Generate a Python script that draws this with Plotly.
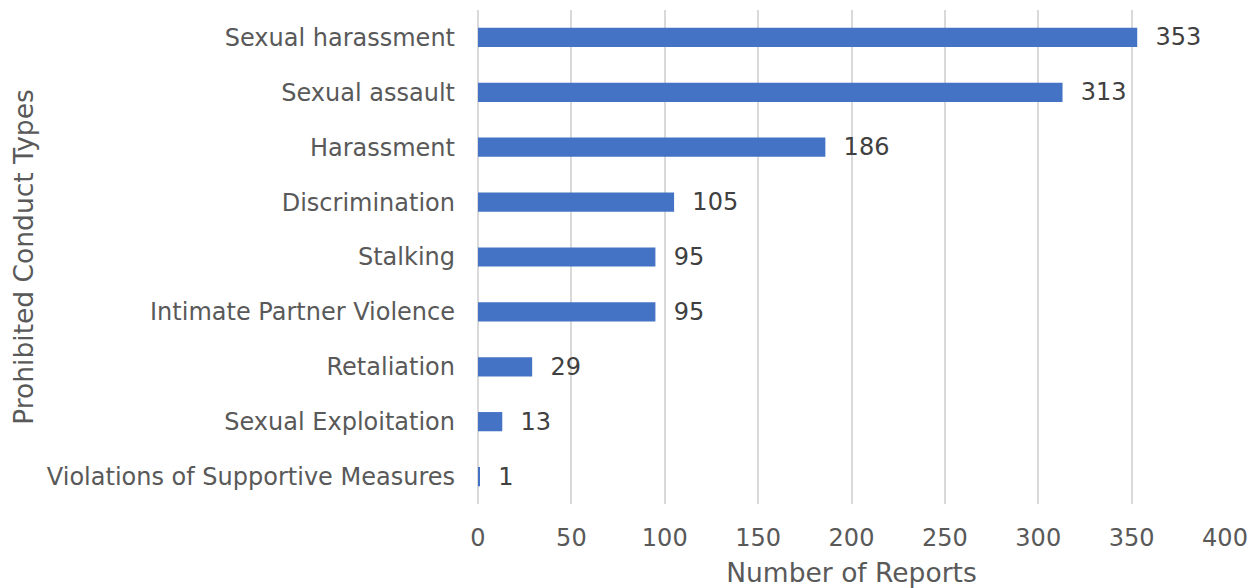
import plotly.graph_objects as go

categories = [
    "Sexual harassment",
    "Sexual assault",
    "Harassment",
    "Discrimination",
    "Stalking",
    "Intimate Partner Violence",
    "Retaliation",
    "Sexual Exploitation",
    "Violations of Supportive Measures",
]
reports = [353, 313, 186, 105, 95, 95, 29, 13, 1]
x_ticks = [0, 50, 100, 150, 200, 250, 300, 350, 400]

FONT = "DejaVu Sans"
FS = 24
TFS = 26.5

fig = go.Figure(
    go.Bar(
        x=reports,
        y=categories,
        orientation="h",
        width=0.35,
        marker=dict(color="#4472C4", line=dict(width=0)),
        text=reports,
        texttemplate="  %{text}",
        textposition="outside",
        constraintext="none",
        textfont=dict(family=FONT, size=FS, color="#404040"),
        cliponaxis=False,
    )
)

fig.update_layout(
    width=1251,
    height=580,
    margin=dict(l=470, r=34, t=2, b=84),
    paper_bgcolor="white",
    plot_bgcolor="white",
    font=dict(family=FONT, size=FS, color="#595959"),
    showlegend=False,
)

fig.update_xaxes(
    range=[0, 400],
    tickvals=x_ticks,
    showgrid=True,
    gridcolor="#D9D9D9",
    gridwidth=1.5,
    zeroline=True,
    zerolinecolor="#D9D9D9",
    zerolinewidth=1.5,
    showline=False,
    ticks="",
    ticklabelstandoff=17,
    tickfont=dict(family=FONT, size=FS, color="#595959"),
    title=dict(text="Number of Reports", font=dict(family=FONT, size=TFS, color="#595959"), standoff=12),
    automargin=False,
)

fig.update_yaxes(
    autorange="reversed",
    showgrid=False,
    showline=False,
    ticks="",
    ticklabelstandoff=22,
    tickfont=dict(family=FONT, size=FS, color="#595959"),
    title=dict(text="Prohibited Conduct Types", font=dict(family=FONT, size=TFS, color="#595959"), standoff=6),
    automargin=False,
)

fig.write_html("out.html")
